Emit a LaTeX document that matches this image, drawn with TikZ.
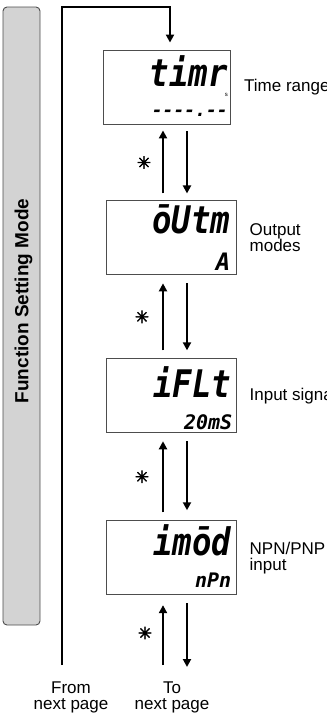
\documentclass[tikz,border=0pt]{standalone}
\usepackage{graphicx}
\usepackage{fontspec}
\setmainfont{Liberation Sans}
\newfontfamily\lcdfont{DejaVu Sans Mono}
\newfontfamily\symfont{DejaVu Sans}[FakeBold=2.5]
\usetikzlibrary{arrows.meta,positioning}
\definecolor{panelgray}{HTML}{D3D3D3}
\definecolor{frame}{HTML}{4D4D4D}

\begin{document}
\begin{tikzpicture}[x=1pt, y=-1pt, font=\fontsize{17}{16}\selectfont,
  lcd/.style={draw=frame, line width=0.9pt, minimum width=130pt, minimum height=74pt, inner sep=0pt},
  panel/.style={draw=frame, line width=0.9pt, fill=panelgray, rounded corners=4pt, minimum width=37pt, minimum height=618pt, inner sep=0pt},
  upar/.style={-{Triangle[length=8pt,width=8pt]}, line width=2.6pt},
  dnar/.style={-{Triangle[length=8pt,width=8pt]}, line width=2.1pt},
  loopar/.style={-{Triangle[length=8pt,width=8pt]}, line width=2.3pt},
  lbl/.style={align=left, inner sep=0pt},
  seg/.style={font=\lcdfont\bfseries\itshape\fontsize{38}{38}\selectfont, inner sep=0pt, anchor=base east},
  val/.style={font=\lcdfont\bfseries\itshape\fontsize{20}{20}\selectfont, inner sep=0pt, anchor=base east},
  star/.style={font=\symfont\fontsize{17}{17}\selectfont, inner sep=0pt}]
\useasboundingbox (0,0) rectangle (327,713);
% side panel
\node[panel] (modebox) at (21.5,316) {};
\node[rotate=90, inner sep=0pt, font=\bfseries\fontsize{19}{19}\selectfont] (modetitle) at (23.5,301) {Function Setting Mode};
% displays
\node[lcd, minimum width=127pt] (t1) at (167,87) {};
\node[lcd, below=76pt of t1, xshift=4pt] (t2) {};
\node[lcd, below=83pt of t2] (t3) {};
\node[lcd, below=87pt of t3] (t4) {};
\node[seg] (t1main) at ([xshift=-3pt,yshift=1pt]t1.east) {\scalebox{0.85}[1]{timr}};
\node[val, font=\lcdfont\bfseries\itshape\fontsize{18}{18}\selectfont] (t1val) at ([xshift=-3pt,yshift=-29pt]t1.east) {----.--};
\node[inner sep=0pt, anchor=base east, font=\fontsize{6}{6}\selectfont] (t1unit) at ([xshift=-3pt,yshift=-9pt]t1.east) {s};
\node[seg] (t2main) at ([xshift=-6pt,yshift=4pt]t2.east) {\scalebox{0.85}[1]{ōUtm}};
\node[val, font=\lcdfont\bfseries\itshape\fontsize{24}{24}\selectfont] (t2val) at ([xshift=-6pt,yshift=-33pt]t2.east) {A};
\node[seg] (t3main) at ([xshift=-5pt,yshift=-2pt]t3.east) {\scalebox{0.85}[1]{iFLt}};
\node[val] (t3val) at ([xshift=-4pt,yshift=-34pt]t3.east) {20mS};
\node[seg] (t4main) at ([xshift=-5pt,yshift=2pt]t4.east) {\scalebox{0.85}[1]{imōd}};
\node[val] (t4val) at ([xshift=-5pt,yshift=-30pt]t4.east) {nPn};
% labels
\node[lbl, right=13pt of t1] (t1lbl) {Time range};
\node[lbl, right=13pt of t2] (t2lbl) {Output\\modes};
\node[lbl, right=13pt of t3] (t3lbl) {Input signal};
\node[lbl, right=13pt of t4] (t4lbl) {NPN/PNP\\input};
% loop from next page
\coordinate (fromend) at (62,665);
\coordinate (looptop) at (62,7);
\draw[loopar] (fromend) -- (looptop) -| ([xshift=3pt,yshift=7pt]t1.north);
% key arrows
\draw[upar] ([xshift=-8pt,yshift=7pt]t2.north) -- ([xshift=-4pt,yshift=-6pt]t1.south);
\draw[dnar] ([xshift=20pt,yshift=-7pt]t1.south) -- ([xshift=16pt,yshift=7pt]t2.north);
\draw[upar] ([xshift=-8pt,yshift=8pt]t3.north) -- ([xshift=-8pt,yshift=-8pt]t2.south);
\draw[dnar] ([xshift=16pt,yshift=-8pt]t2.south) -- ([xshift=16pt,yshift=8pt]t3.north);
\draw[upar] ([xshift=-8pt,yshift=8pt]t4.north) -- ([xshift=-8pt,yshift=-8pt]t3.south);
\draw[dnar] ([xshift=16pt,yshift=-8pt]t3.south) -- ([xshift=16pt,yshift=10pt]t4.north);
\coordinate (nextup) at (163,665);
\coordinate (nextdn) at (187,667);
\draw[upar] (nextup) -- ([xshift=-8pt,yshift=-10pt]t4.south);
\draw[dnar] ([xshift=16pt,yshift=-8pt]t4.south) -- (nextdn);
% asterisks
\path (t1.south) -- node[star, xshift=-25pt] (k1) {✳} (t2.north);
\path (t2.south) -- node[star, xshift=-29pt] (k2) {✳} (t3.north);
\path (t3.south) -- node[star, xshift=-29pt] (k3) {✳} (t4.north);
\node[star] (k4) at (145,633) {✳};
% page links
\node[lbl, align=center, anchor=north] (fromlbl) at (71,682) {From\\next page};
\node[lbl, align=center, anchor=north] (tolbl) at (172,682) {To\\next page};
\end{tikzpicture}
\end{document}
